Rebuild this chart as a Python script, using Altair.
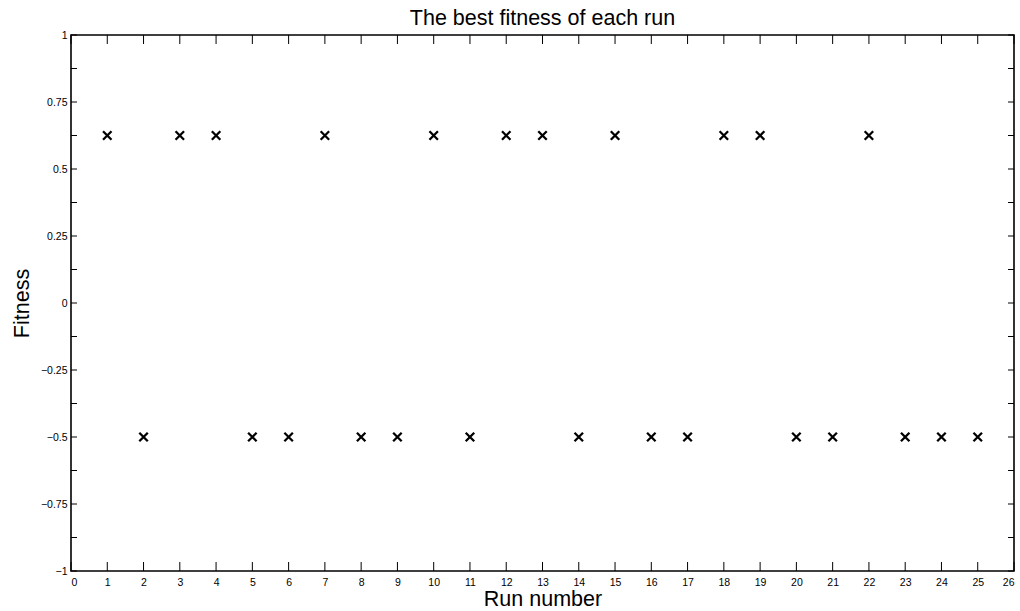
import altair as alt
import pandas as pd

runs = list(range(1, 26))
fitness = [0.625, -0.5, 0.625, 0.625, -0.5, -0.5, 0.625, -0.5, -0.5, 0.625,
           -0.5, 0.625, 0.625, -0.5, 0.625, -0.5, -0.5, 0.625, 0.625, -0.5,
           -0.5, 0.625, -0.5, -0.5, -0.5]
x_ticks = list(range(0, 27))
y_labels = [-1, -0.75, -0.5, -0.25, 0, 0.25, 0.5, 0.75, 1]
y_ticks = [-1 + 0.125 * i for i in range(17)]
title_text = "The best fitness of each run"

W, H = 943, 536
FONT = "Liberation Sans"

df = pd.DataFrame({"Run": runs, "Fitness": fitness})
xt = pd.DataFrame({"Run": x_ticks})
yt = pd.DataFrame({"Fitness": y_ticks})

xscale = alt.Scale(domain=[0, 26], nice=False, zero=False)
yscale = alt.Scale(domain=[-1, 1], nice=False, zero=False)

x_axis = alt.Axis(values=x_ticks, ticks=False, domain=False, grid=False,
                  labelPadding=6, labelFontSize=10.5, labelFont=FONT,
                  labelColor="black", labelOverlap=False,
                  labelExpr="format(datum.value, 'd')",
                  title="Run number", titleFont=FONT, titleFontSize=21.5,
                  titleFontWeight="normal", titleColor="black",
                  titleBaseline="alphabetic", titleY=34)
y_axis = alt.Axis(values=y_labels, ticks=False, domain=False, grid=False,
                  labelPadding=4, labelFontSize=10.5, labelFont=FONT,
                  labelColor="black", labelOverlap=False,
                  labelExpr="format(datum.value, '')",
                  title="Fitness", titleFont=FONT, titleFontSize=21.5,
                  titleFontWeight="normal", titleColor="black",
                  titleBaseline="alphabetic", titleX=-43)

points = alt.Chart(df).mark_point(
    shape="M-1,-1L1,1M-1,1L1,-1", filled=False, stroke="black",
    strokeWidth=2.3, size=72, opacity=1
).encode(
    x=alt.X("Run:Q", scale=xscale, axis=x_axis),
    y=alt.Y("Fitness:Q", scale=yscale, axis=y_axis),
)

tick_style = dict(color="black", strokeWidth=1)
x_bottom = alt.Chart(xt).mark_rule(**tick_style).encode(
    x=alt.X("Run:Q", scale=xscale, axis=x_axis),
    y=alt.value(H), y2=alt.value(H - 9))
x_top = alt.Chart(xt).mark_rule(**tick_style).encode(
    x=alt.X("Run:Q", scale=xscale, axis=x_axis),
    y=alt.value(0), y2=alt.value(9))
y_left = alt.Chart(yt).mark_rule(**tick_style).encode(
    y=alt.Y("Fitness:Q", scale=yscale, axis=y_axis),
    x=alt.value(0), x2=alt.value(6))
y_right = alt.Chart(yt).mark_rule(**tick_style).encode(
    y=alt.Y("Fitness:Q", scale=yscale, axis=y_axis),
    x=alt.value(W), x2=alt.value(W - 6))

title = alt.Chart(pd.DataFrame({"t": [title_text]})).mark_text(
    font=FONT, fontSize=21.5, color="black", align="center", baseline="alphabetic"
).encode(text="t:N", x=alt.value(W / 2), y=alt.value(-10))

chart = alt.layer(points, x_bottom, x_top, y_left, y_right, title).properties(
    width=W, height=H,
    background="white",
    autosize=alt.AutoSizeParams(type="none"),
    padding={"left": 71, "top": 35, "right": 6, "bottom": 40},
).configure_view(stroke="black", strokeWidth=1.6)

chart.save("out.html", embed_options={"renderer": "svg", "actions": False})
